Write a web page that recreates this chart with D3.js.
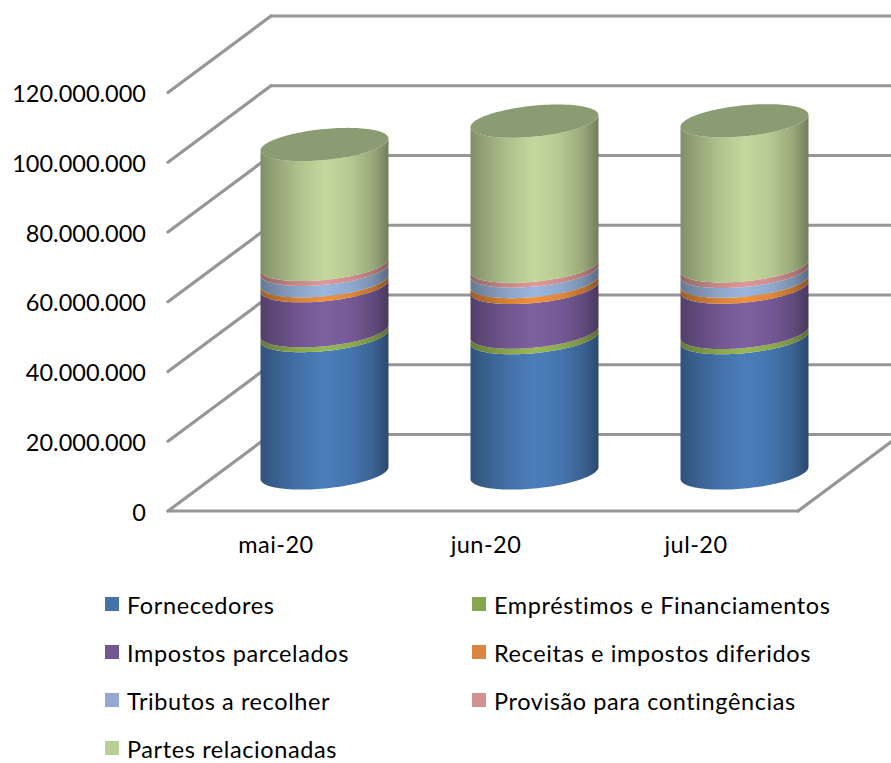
<!DOCTYPE html>
<html><head><meta charset="utf-8">
<style>html,body{margin:0;padding:0;background:#fff}svg{display:block}text{font-family:Lato,"Open Sans",sans-serif;fill:#000}</style>
<script src="https://cdnjs.cloudflare.com/ajax/libs/d3/7.8.5/d3.min.js"></script>
</head><body><div id="c"></div>
<script>
const categories = ["mai-20","jun-20","jul-20"];
const seriesNames = ["Fornecedores","Empréstimos e Financiamentos","Impostos parcelados","Receitas e impostos diferidos","Tributos a recolher","Provisão para contingências","Partes relacionadas"];
const fornecedores = [39400000,38800000,38800000];
const emprestimos = [1400000,1600000,1500000];
const impostos = [12900000,12800000,13000000];
const receitas = [1400000,1700000,1700000];
const tributos = [3300000,3000000,2800000];
const provisao = [1400000,1400000,1600000];
const partes = [34400000,41600000,41600000];
const yTicks = [0,20000000,40000000,60000000,80000000,100000000,120000000];
const tickLabels = ["0","20.000.000","40.000.000","60.000.000","80.000.000","100.000.000","120.000.000"];
const bandColors = ["#4a7ebb","#98b954","#7d60a0","#f0913e","#9bb7df","#dc9a98","#c4d89d"];
const legendColors = ["#4573a7","#89a54e","#71588f","#db843d","#93a9cf","#d19392","#b9cd96"];
const capColor = "#8b9c72";

const W=891,H=763;
const frontL=168,frontR=798,frontY0=511,frontY1=92.5,depthX=103,depthY=76.5;
const svg=d3.select("#c").append("svg").attr("width",W).attr("height",H);
const defs=svg.append("defs");
defs.append("filter").attr("id","soft").attr("filterUnits","userSpaceOnUse").attr("x",0).attr("y",0).attr("width",W).attr("height",H)
  .append("feGaussianBlur").attr("stdDeviation",0.6);

const y=d3.scaleLinear().domain([0,120000000]).range([frontY0,frontY1]);
const x=d3.scaleBand().domain(categories).range([frontL,frontR]);

const rows=categories.map((c,i)=>({cat:c,s0:fornecedores[i],s1:emprestimos[i],s2:impostos[i],s3:receitas[i],s4:tributos[i],s5:provisao[i],s6:partes[i]}));
const stacked=d3.stack().keys(["s0","s1","s2","s3","s4","s5","s6"])(rows);

// grid
const marks=svg.append("g").attr("filter","url(#soft)");
const grid=marks.append("g").attr("stroke","#969696").attr("stroke-width",3.2).attr("fill","none").attr("stroke-linecap","round");
grid.selectAll(".d").data(yTicks).join("line").attr("class","d")
  .attr("x1",frontL).attr("x2",frontL+depthX).attr("y1",d=>y(d)).attr("y2",d=>y(d)-depthY);
grid.selectAll(".b").data(yTicks).join("line").attr("class","b")
  .attr("x1",frontL+depthX).attr("x2",W+4).attr("y1",d=>y(d)-depthY).attr("y2",d=>y(d)-depthY);
grid.append("line").attr("x1",frontL).attr("x2",frontR).attr("y1",y(0)).attr("y2",y(0));
grid.append("line").attr("x1",frontR).attr("x2",frontR+depthX).attr("y1",y(0)).attr("y2",y(0)-depthY);

// shading
function shade(id,color){
  const g=defs.append("linearGradient").attr("id",id);
  [[0,.66],[.12,.76],[.3,.9],[.5,1],[.7,.93],[.88,.78],[1,.58]].forEach(([o,k])=>{
    const c=d3.rgb(color);
    g.append("stop").attr("offset",o).attr("stop-color",d3.rgb(c.r*k,c.g*k,c.b*k).formatHex());
  });
}
bandColors.forEach((c,i)=>shade("sh"+i,c));

// cylinders
const rx=64,ry=15.5,tilt=6;
const cxOf=c=>x(c)+x.bandwidth()/2+depthX/2;
const yc=v=>y(v)-38;
const line=d3.line();
const frontArc=(cx,cy)=>d3.range(0,61).map(k=>{const t=Math.PI-Math.PI*k/60;return [cx+rx*Math.cos(t),cy-tilt*Math.cos(t)+ry*Math.sin(t)];});
const fullEll=(cx,cy)=>d3.range(0,121).map(k=>{const t=2*Math.PI*k/120;return [cx+rx*Math.cos(t),cy-tilt*Math.cos(t)+ry*Math.sin(t)];});

const cyl=marks.append("g");
stacked.forEach((layer,li)=>{
  cyl.append("g").selectAll("path").data(layer).join("path")
    .attr("fill",`url(#sh${li})`)
    .attr("d",d=>{
      const cx=cxOf(d.data.cat);
      const lo=frontArc(cx,yc(d[0]));
      const hi=frontArc(cx,yc(d[1])).reverse();
      return line(lo.concat(hi))+"Z";
    });
});
cyl.append("g").selectAll("path").data(stacked[6]).join("path")
  .attr("fill",capColor)
  .attr("d",d=>line(fullEll(cxOf(d.data.cat),yc(d[1])))+"Z");

// text
const FS=23.5;
svg.append("g").selectAll("text").data(yTicks).join("text")
  .attr("x",146).attr("y",d=>y(d)+9.5).attr("text-anchor","end").attr("font-size",FS)
  .text((d,i)=>tickLabels[i]);
svg.append("g").selectAll("text").data(categories).join("text")
  .attr("x",c=>x(c)+x.bandwidth()/2+3).attr("y",553).attr("text-anchor","middle").attr("font-size",FS)
  .style("letter-spacing","0.45px").text(c=>c);

// legend
const legCol=d3.scaleOrdinal().domain([0,1]).range([105,472]);
const legRow=d3.scalePoint().domain([0,1,2,3]).range([604,748]);
const leg=svg.append("g").selectAll("g").data(seriesNames).join("g")
  .attr("transform",(d,i)=>`translate(${legCol(i%2)},${legRow(Math.floor(i/2))})`);
leg.append("rect").attr("y",-7).attr("width",14).attr("height",14).attr("fill",(d,i)=>legendColors[i]);
leg.append("text").attr("x",22).attr("y",10).attr("font-size",FS).style("letter-spacing","0.6px").text(d=>d);
</script></body></html>
